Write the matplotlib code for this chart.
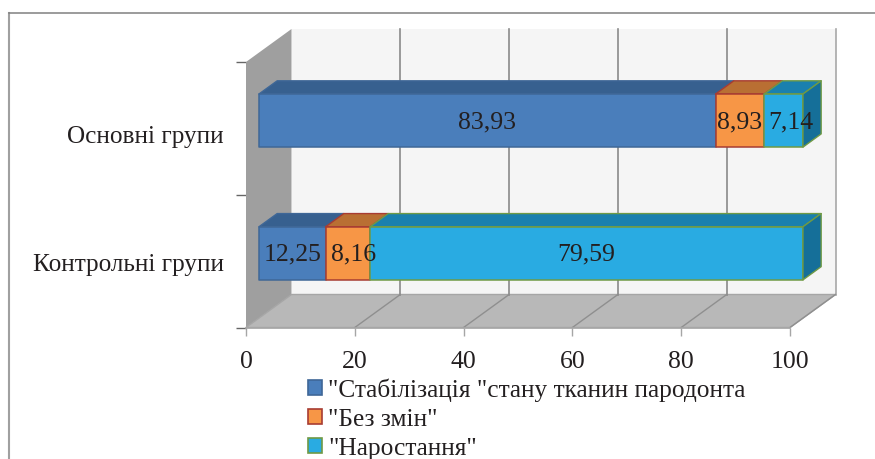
import numpy as np
import matplotlib
matplotlib.use('Agg')
import matplotlib.pyplot as plt
from matplotlib.patches import Polygon, Patch

plt.rcParams['font.family'] = ['Liberation Serif', 'DejaVu Serif']

groups = ['Контрольні групи', 'Основні групи']
series = ['"Стабілізація "стану тканин пародонта', '"Без змін"', '"Наростання"']
stab = [12.25, 83.93]
bez = [8.16, 8.93]
nar = [79.59, 7.14]
labels_stab = ['12,25', '83,93']
labels_bez = ['8,16', '8,93']
labels_nar = ['79,59', '7,14']
xticks = [0, 20, 40, 60, 80, 100]

W, H = 875, 460
fig = plt.figure(figsize=(W / 100, H / 100), dpi=100)

# рамка
bg = fig.add_axes([0, 0, 1, 1])
bg.set_xlim(0, W)
bg.set_ylim(H, 0)
bg.axis('off')
bg.plot([8.5, 8.5], [H, 13.5], color='#a0a0a0', lw=1.5)
bg.plot([8.5, W], [13.5, 13.5], color='#808080', lw=1.1)

# передня площина: 0..100 -> 246..790 px, категорії -> 328.5..63 px
ax = fig.add_axes([246 / W, 1 - 328.5 / H, (790 - 246) / W, (328.5 - 63) / H])
ax.set_xlim(0, 100)
ax.set_ylim(-0.5, 1.5)
ax.patch.set_visible(False)
for s in ax.spines.values():
    s.set_visible(False)

dx = 45.5 / 5.44    # глибина, одиниці x
dy = 33 / 132.75    # глибина, одиниці y
ymin, ymax = -0.5, 1.5


def off(x, y, d):
    return (x + dx * d, y + dy * d)


def poly(pts, fc, ec='none', lw=0, z=1):
    ax.add_patch(Polygon(pts, closed=True, fc=fc, ec=ec, lw=lw, zorder=z,
                         clip_on=False, joinstyle='round'))


# стінки
poly([off(0, ymin, 1), off(100, ymin, 1), off(100, ymax, 1), off(0, ymax, 1)], '#f5f5f5', z=1)
poly([off(0, ymin, 0), off(0, ymin, 1), off(0, ymax, 1), off(0, ymax, 0)], '#9f9f9f', z=2)
poly([off(0, ymin, 0), off(100, ymin, 0), off(100, ymin, 1), off(0, ymin, 1)], '#b8b8b8', ec='#a6a6a6', lw=1, z=2)

for t in xticks[1:]:
    col = '#a8a8a8' if t == 100 else '#8a8a8a'
    ax.plot([off(t, ymin, 1)[0], off(t, ymax, 1)[0]],
            [off(t, ymin, 1)[1], off(t, ymax, 1)[1]], color=col, lw=1.2, zorder=2, clip_on=False)
    ax.plot([t, off(t, ymin, 1)[0]], [ymin, off(t, ymin, 1)[1]], color='#8f8f8f', lw=1, zorder=3, clip_on=False)
ax.plot([0, 100], [ymin, ymin], color='#a6a6a6', lw=1.2, zorder=3, clip_on=False)

# стовпчики
d0, d1 = 0.285, 0.685
half = 0.2
shift = -0.012
colors = [
    ('#4a7ebb', '#37608f', '#3f6797'),
    ('#f79646', '#b96f33', '#a83c32'),
    ('#29abe2', '#1a80ae', '#6f9a45'),
]
side_col = '#156f99'
values = [stab, bez, nar]
texts = [labels_stab, labels_bez, labels_nar]
# зсув підписів вправо, одиниці x: (група, серія)
nudge = {(0, 1): 1.0, (1, 2): 1.4}

for i in range(len(groups)):
    left = 0
    z = 5
    yc0 = i + shift
    for k, (vals, txt, (fc, top, ec)) in enumerate(zip(values, texts, colors)):
        v = vals[i]
        y0, y1 = yc0 - half, yc0 + half
        a = off(left, y1, d0)
        b = off(left + v, y1, d0)
        c = off(left + v, y1, d1)
        e = off(left, y1, d1)
        poly([a, b, c, e], top, ec=ec, lw=1, z=z)
        poly([off(left, y0, d0), off(left + v, y0, d0), b, a], fc, ec=ec, lw=1.1, z=z + 1)
        xc, yc = off(left + v / 2 + nudge.get((i, k), 0), yc0, d0)
        ax.text(xc, yc - 0.004, txt[i], ha='center', va='center', fontsize=18.5, color='#231f20', zorder=20)
        left += v
        z += 2
    # торець
    poly([off(left, yc0 - half, d0), off(left, yc0 - half, d1), off(left, yc0 + half, d1), off(left, yc0 + half, d0)],
         side_col, ec='#6f9a45', lw=1, z=z)

# осі
ax.set_xticks(xticks)
ax.set_xticklabels([str(t) for t in xticks], fontsize=18.5, color='#231f20')
ax.set_yticks([-0.5, 0.5, 1.5])
ax.set_yticklabels([])
ax.set_yticks([0, 0.965], minor=True)
ax.set_yticklabels(groups, minor=True, fontsize=18.2, color='#231f20')
ax.tick_params(axis='x', length=6, color='#a6a6a6', width=1, pad=10)
ax.tick_params(axis='y', which='major', length=7, color='#666666', width=1)
ax.tick_params(axis='y', which='minor', length=0, pad=16)

# легенда
handles = [Patch(fc=c[0], ec=c[2], lw=1.2, label=s) for c, s in zip(colors, series)]
fig.legend(handles=handles, loc='upper left', bbox_to_anchor=(308 / W, 1 - 379 / H), frameon=False,
           fontsize=18.3, labelcolor='#231f20', handlelength=0.55, handleheight=0.55, handletextpad=0.25,
           labelspacing=0.27, borderpad=0, borderaxespad=0)

fig.savefig('out.png', dpi=100)
